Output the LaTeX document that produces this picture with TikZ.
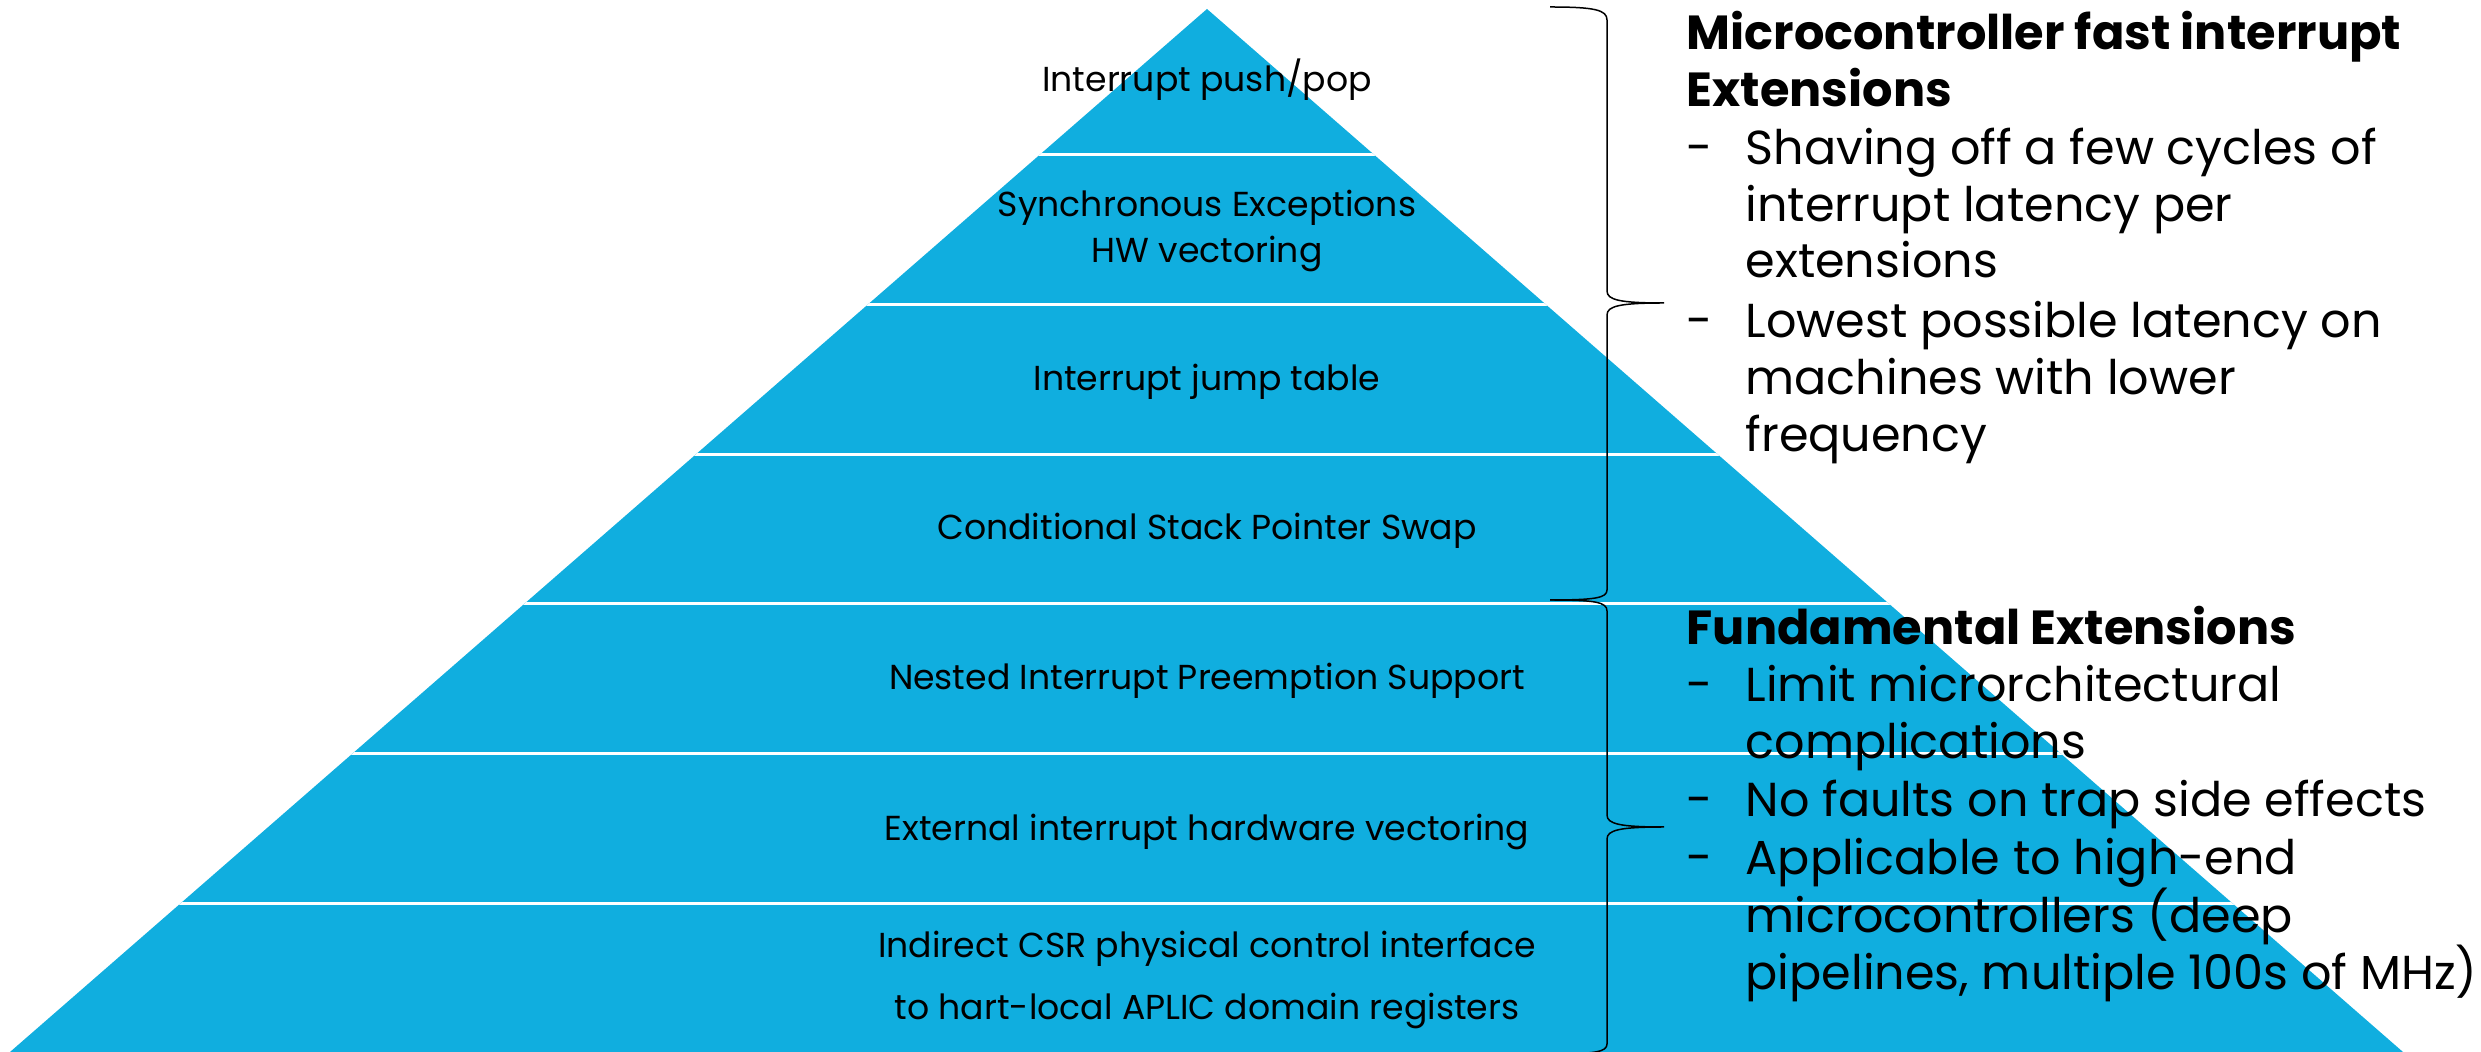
\documentclass[tikz,border=0pt]{standalone}
\usepackage{fontspec}
\setmainfont{Poppins}
\definecolor{pyr}{RGB}{16,174,223}
\begin{document}
\begin{tikzpicture}[x=0.3pt,y=-0.3pt,
  lbl/.style={font=\fontsize{10.4}{12}\selectfont, inner sep=0, align=center, text=black},
  head/.style={font=\fontsize{14.35}{17.3}\selectfont\bfseries, anchor=base west, inner sep=0},
  item/.style={font=\fontsize{14.3}{17.3}\selectfont, anchor=base west, inner sep=0},
  sepline/.style={white, line width=0.9pt},
  bracestyle/.style={black, line width=0.45pt}]
\useasboundingbox (0,0) rectangle (2481,1052);
\coordinate (apex) at (1207,9);
\coordinate (bl) at (10,1052);
\coordinate (br) at (2403,1052);
\fill[pyr] (apex) -- (br) -- (bl) -- cycle;
\begin{scope}
\clip (apex) -- (br) -- (bl) -- cycle;
\foreach \y in {155,305,455,604,754,904} \draw[sepline] (0,\y) -- (2481,\y);
\end{scope}
% pyramid labels
\node[lbl] (l1) at (1207,80) {Interrupt push/pop};
\node[lbl] (l2a) at (1207,208) {Synchronous Exceptions};
\node[lbl] (l2b) at (1207,254) {HW vectoring};
\node[lbl] (l3) at (1207,382) {Interrupt jump table};
\node[lbl] (l4) at (1207,531) {Conditional Stack Pointer Swap};
\node[lbl] (l5) at (1207,681) {Nested Interrupt Preemption Support};
\node[lbl] (l6) at (1207,832) {External interrupt hardware vectoring};
\node[lbl] (l7a) at (1207,949) {Indirect CSR physical control interface};
\node[lbl] (l7b) at (1207,1011) {to hart-local APLIC domain registers};
% braces
\draw[bracestyle] (1550,7) .. controls (1595,7) and (1607,10) .. (1607,20)
  -- (1607,291) .. controls (1607,300) and (1620,303) .. (1664,303)
  .. controls (1620,303) and (1607,306) .. (1607,315)
  -- (1607,590) .. controls (1607,598) and (1595,600) .. (1550,600);
\draw[bracestyle] (1550,600) .. controls (1595,600) and (1607,602) .. (1607,611)
  -- (1607,815) .. controls (1607,824) and (1620,827) .. (1664,827)
  .. controls (1620,827) and (1607,830) .. (1607,839)
  -- (1607,1044) .. controls (1607,1052) and (1595,1054) .. (1550,1054);
% block 1
\node[head] (h1a) at (1686,50) {Microcontroller fast interrupt};
\node[head] (h1b) at (1686,107) {Extensions};
\node[item] (d1) at (1686,165) {-};
\node[item] (t1a) at (1745,165) {Shaving off a few cycles of};
\node[item] (t1b) at (1745,222) {interrupt latency per};
\node[item] (t1c) at (1745,278) {extensions};
\node[item] (d2) at (1686,338) {-};
\node[item] (t2a) at (1745,338) {Lowest possible latency on};
\node[item] (t2b) at (1745,395) {machines with lower};
\node[item] (t2c) at (1745,452) {frequency};
% block 2
\node[head] (h2) at (1686,645) {Fundamental Extensions};
\node[item] (d3) at (1686,702) {-};
\node[item] (t3a) at (1745,702) {Limit microrchitectural};
\node[item] (t3b) at (1745,759) {complications};
\node[item] (d4) at (1686,817) {-};
\node[item] (t4) at (1745,817) {No faults on trap side effects};
\node[item] (d5) at (1686,875) {-};
\node[item] (t5a) at (1745,875) {Applicable to high-end};
\node[item] (t5b) at (1745,933) {microcontrollers (deep};
\node[item] (t5c) at (1745,990) {pipelines, multiple 100s of MHz)};
\end{tikzpicture}
\end{document}
